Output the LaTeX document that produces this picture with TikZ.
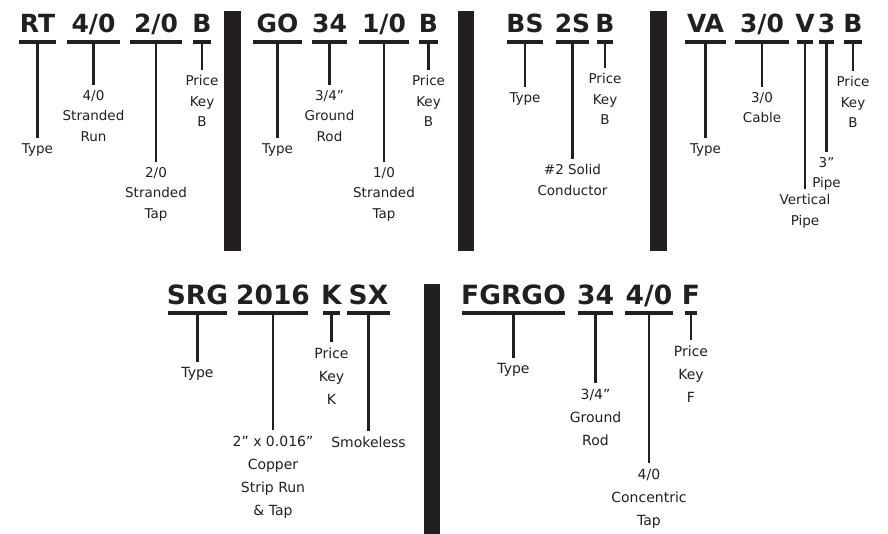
\documentclass[tikz,border=0pt]{standalone}
\usepackage{fontspec}
\setmainfont{DejaVu Sans}
\usepackage{tikz}
\usetikzlibrary{positioning}
\definecolor{tinta}{RGB}{35,31,32}

\begin{document}
\begin{tikzpicture}[
  x=1pt, y=1pt,
  barra/.style={rectangle, fill=tinta, inner sep=0pt, minimum height=4pt},
  barra2/.style={barra, minimum height=4.5pt},
  cod/.style={font=\fontsize{25}{25}\selectfont\bfseries, text=tinta,
    inner sep=0pt, text depth=0pt},
  cod2/.style={cod, font=\fontsize{26.5}{26.5}\selectfont\bfseries},
  lbl/.style={font=\fontsize{13.5}{20.5}\selectfont, text=tinta,
    align=center, inner sep=5pt},
  lbl2/.style={lbl, font=\fontsize{14}{23}\selectfont},
  tallo/.style={draw=tinta, line width=2.2pt},
  sep/.style={fill=tinta}
]
\useasboundingbox (0,0) rectangle (888,-534);

%% ─────────────────────────────────────────────
%% Fila superior: barras en y=-42
%% ─────────────────────────────────────────────

%% RT 4/0 2/0 B
\node[barra, minimum width=37pt] (bRT) at (37.5,-42) {};
\node[barra, minimum width=53pt] (b40) at (93.5,-42) {};
\node[barra, minimum width=52pt] (b20) at (156,-42) {};
\node[barra, minimum width=18pt] (bB1) at (202,-42) {};

\node[cod, above=7pt of bRT] (cRT) {RT};
\node[cod, above=7pt of b40] (c40) {4/0};
\node[cod, above=7pt of b20] (c20) {2/0};
\node[cod, above=7pt of bB1] (cB1) {B};

\node[lbl, below=94pt of bRT]  (tRT) {Type};
\node[lbl, below=41pt of b40]  (t40) {4/0\\Stranded\\Run};
\node[lbl, below=118pt of b20] (t20) {2/0\\Stranded\\Tap};
\node[lbl, below=26pt of bB1]  (tB1) {Price\\Key\\B};

\draw[tallo] (bRT.south) -- (tRT.north);
\draw[tallo] (b40.south) -- (t40.north);
\draw[tallo] (b20.south) -- (t20.north);
\draw[tallo] (bB1.south) -- (tB1.north);

\fill[sep] (224,-11) rectangle (241,-251);

%% GO 34 1/0 B
\node[barra, minimum width=49pt] (bGO) at (277.5,-42) {};
\node[barra, minimum width=35pt] (b34) at (329.5,-42) {};
\node[barra, minimum width=50pt] (b10) at (384,-42) {};
\node[barra, minimum width=19pt] (bB2) at (428.5,-42) {};

\node[cod, above=7pt of bGO] (cGO) {GO};
\node[cod, above=7pt of b34] (c34) {34};
\node[cod, above=7pt of b10] (c10) {1/0};
\node[cod, above=7pt of bB2] (cB2) {B};

\node[lbl, below=94pt of bGO]  (tGO) {Type};
\node[lbl, below=41pt of b34]  (t34) {3/4”\\Ground\\Rod};
\node[lbl, below=118pt of b10] (t10) {1/0\\Stranded\\Tap};
\node[lbl, below=26pt of bB2]  (tB2) {Price\\Key\\B};

\draw[tallo] (bGO.south) -- (tGO.north);
\draw[tallo] (b34.south) -- (t34.north);
\draw[tallo] (b10.south) -- (t10.north);
\draw[tallo] (bB2.south) -- (tB2.north);

\fill[sep] (458,-11) rectangle (474,-251);

%% BS 2S B
\node[barra, minimum width=36pt] (bBS) at (525,-42) {};
\node[barra, minimum width=33pt] (b2S) at (572.5,-42) {};
\node[barra, minimum width=16pt] (bB3) at (605,-42) {};

\node[cod, above=7pt of bBS] (cBS) {BS};
\node[cod, above=7pt of b2S] (c2S) {2S};
\node[cod, above=7pt of bB3] (cB3) {B};

\node[lbl, below=43pt of bBS]  (tBS) {Type};
\node[lbl, below=115pt of b2S] (t2S) {\#2 Solid\\Conductor};
\node[lbl, below=24pt of bB3]  (tB3) {Price\\Key\\B};

\draw[tallo] (bBS.south) -- (tBS.north);
\draw[tallo] (b2S.south) -- (t2S.north);
\draw[tallo] (bB3.south) -- (tB3.north);

\fill[sep] (650,-11) rectangle (667,-251);

%% VA 3/0 V3 B
\node[barra, minimum width=41pt] (bVA) at (705.5,-42) {};
\node[barra, minimum width=54pt] (b30) at (762,-42) {};
\node[barra, minimum width=16pt] (bV)  at (805,-42) {};
\node[barra, minimum width=15pt] (b3)  at (826.5,-42) {};
\node[barra, minimum width=18pt] (bB4) at (853,-42) {};

\node[cod, above=7pt of bVA] (cVA) {VA};
\node[cod, above=7pt of b30] (c30) {3/0};
\node[cod, above=7pt of bV]  (cV)  {V};
\node[cod, above=7pt of b3]  (c3)  {3};
\node[cod, above=7pt of bB4] (cB4) {B};

\node[lbl, below=94pt of bVA]  (tVA) {Type};
\node[lbl, below=43pt of b30]  (t30) {3/0\\Cable};
\node[lbl, below=145pt of bV]  (tV)  {Vertical\\Pipe};
\node[lbl, below=108pt of b3]  (t3)  {3”\\Pipe};
\node[lbl, below=27pt of bB4]  (tB4) {Price\\Key\\B};

\draw[tallo] (bVA.south) -- (tVA.north);
\draw[tallo] (b30.south) -- (t30.north);
\draw[tallo] (bV.south)  -- (tV.north);
\draw[tallo] (b3.south)  -- (t3.north);
\draw[tallo] (bB4.south) -- (tB4.north);

%% ─────────────────────────────────────────────
%% Fila inferior: barras en y=-313
%% ─────────────────────────────────────────────

%% SRG 2016 K SX
\node[barra2, minimum width=59pt] (bSRG)  at (197.5,-313) {};
\node[barra2, minimum width=70pt] (b2016) at (273,-313) {};
\node[barra2, minimum width=17pt] (bK)    at (331.5,-313) {};
\node[barra2, minimum width=43pt] (bSX)   at (368.5,-313) {};

\node[cod2, above=6pt of bSRG]  (cSRG)  {SRG};
\node[cod2, above=6pt of b2016] (c2016) {2016};
\node[cod2, above=6pt of bK]    (cK)    {K};
\node[cod2, above=6pt of bSX]   (cSX)   {SX};

\node[lbl2, below=47pt of bSRG]   (tSRG)  {Type};
\node[lbl2, below=115pt of b2016] (t2016) {2” x 0.016”\\Copper\\Strip Run\\\& Tap};
\node[lbl2, below=27pt of bK]     (tK)    {Price\\Key\\K};
\node[lbl2, below=116pt of bSX]   (tSX)   {Smokeless};

\draw[tallo] (bSRG.south)  -- (tSRG.north);
\draw[tallo] (b2016.south) -- (t2016.north);
\draw[tallo] (bK.south)    -- (tK.north);
\draw[tallo] (bSX.south)   -- (tSX.north);

\fill[sep] (424,-284) rectangle (440,-534);

%% FGRGO 34 4/0 F
\node[barra2, minimum width=103pt] (bFG)  at (513.5,-313) {};
\node[barra2, minimum width=35pt]  (b34b) at (595.5,-313) {};
\node[barra2, minimum width=48pt]  (b40b) at (649,-313) {};
\node[barra2, minimum width=12pt]  (bF)   at (691,-313) {};

\node[cod2, above=6pt of bFG]  (cFG)  {FGRGO};
\node[cod2, above=6pt of b34b] (c34b) {34};
\node[cod2, above=6pt of b40b] (c40b) {4/0};
\node[cod2, above=6pt of bF]   (cF)   {F};

\node[lbl2, below=43pt of bFG]   (tFG)  {Type};
\node[lbl2, below=68pt of b34b]  (t34b) {3/4”\\Ground\\Rod};
\node[lbl2, below=148pt of b40b] (t40b) {4/0\\Concentric\\Tap};
\node[lbl2, below=25pt of bF]    (tF)   {Price\\Key\\F};

\draw[tallo] (bFG.south)  -- (tFG.north);
\draw[tallo] (b34b.south) -- (t34b.north);
\draw[tallo] (b40b.south) -- (t40b.north);
\draw[tallo] (bF.south)   -- (tF.north);

\end{tikzpicture}
\end{document}
